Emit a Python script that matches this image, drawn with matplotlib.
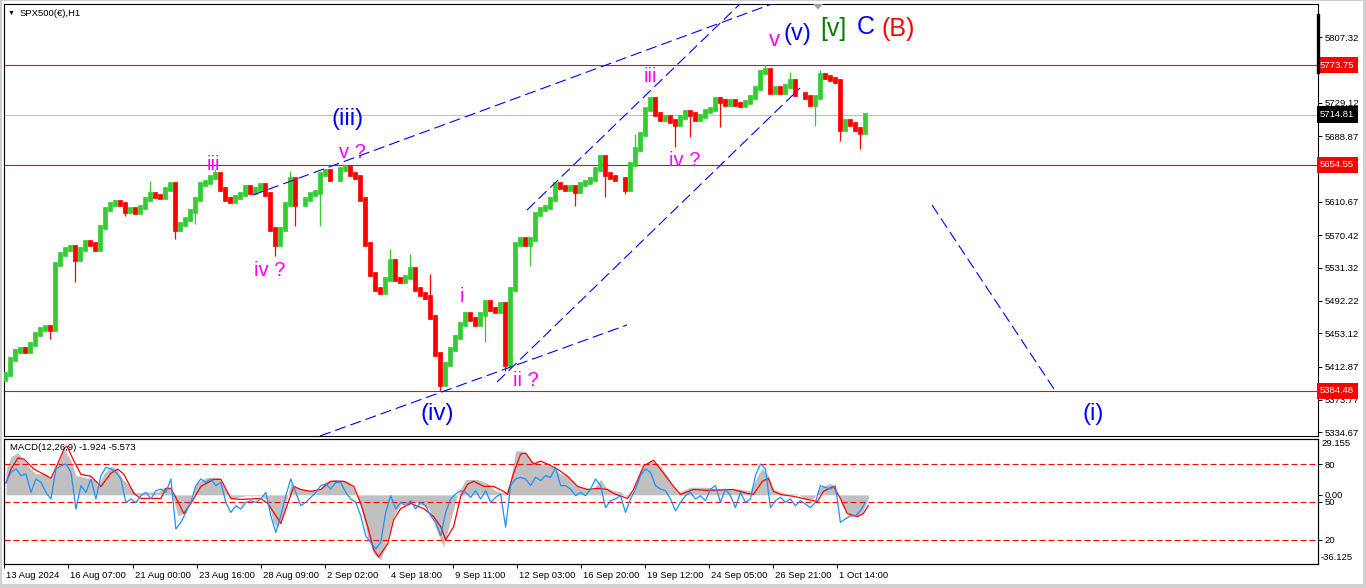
import matplotlib
matplotlib.use("Agg")
import matplotlib.pyplot as plt
import matplotlib.transforms as mtransforms
from matplotlib.lines import Line2D
from matplotlib.patches import Polygon, Rectangle

plt.rcParams['font.family'] = ['Liberation Sans', 'DejaVu Sans']

# ---------------- data ----------------
first_open = 5398.0
# closes every 5 hourly bars, starting at bar 2
closes = [
    5404.3, 5422.2, 5431.8, 5434.2, 5431.8, 5440.1, 5452.1, 5458.1, 5460.4, 5458.1,
    5535.7, 5547.7, 5553.7, 5556.0, 5541.7, 5553.7, 5562.0, 5559.6, 5553.7, 5580.0,
    5601.4, 5607.4, 5609.8, 5607.4, 5599.0, 5601.4, 5597.9, 5603.9, 5613.4, 5619.4,
    5617.0, 5615.8, 5625.3, 5631.3, 5577.6, 5583.5, 5589.5, 5599.0, 5613.4, 5631.3,
    5633.7, 5639.7, 5643.3, 5625.3, 5613.4, 5611.0, 5615.8, 5619.4, 5627.7, 5621.8,
    5625.3, 5630.1, 5619.4, 5577.6, 5559.6, 5577.6, 5607.4, 5637.3, 5607.4, 5607.4,
    5613.4, 5619.4, 5621.8, 5643.3, 5646.8, 5637.3, 5637.3, 5649.2, 5651.6, 5643.3,
    5639.7, 5613.4, 5559.6, 5523.8, 5505.9, 5502.3, 5517.8, 5539.3, 5517.8, 5515.4,
    5520.2, 5529.8, 5505.9, 5499.9, 5496.3, 5472.4, 5428.2, 5392.3, 5416.2, 5434.2,
    5448.5, 5464.0, 5476.0, 5470.0, 5464.0, 5476.0, 5490.3, 5482.0, 5479.5, 5487.9,
    5416.2, 5505.9, 5559.6, 5565.6, 5559.6, 5565.6, 5595.5, 5601.4, 5603.9, 5613.4,
    5631.3, 5627.7, 5625.3, 5627.7, 5622.9, 5631.3, 5633.7, 5637.3, 5649.2, 5663.6,
    5643.3, 5639.7, 5637.3, 5637.3, 5625.3, 5655.2, 5673.1, 5691.1, 5720.9, 5732.9,
    5715.0, 5709.0, 5711.4, 5706.6, 5703.0, 5711.4, 5717.4, 5715.0, 5709.0, 5712.6,
    5718.6, 5720.9, 5732.9, 5730.5, 5726.9, 5730.5, 5726.9, 5725.7, 5729.3, 5735.3,
    5747.2, 5766.3, 5768.7, 5742.4, 5747.2, 5742.4, 5749.6, 5754.4, 5738.9, 5738.9,
    5735.3, 5726.9, 5735.3, 5762.7, 5759.2, 5756.8, 5754.4, 5697.0, 5706.6, 5703.0,
    5697.0, 5693.5, 5714.8,
]
low_spike_idx = [9, 14, 24, 34, 38, 54, 58, 63, 87, 96, 100, 105, 114, 120, 124, 134, 137, 143, 162, 167, 171]
low_spike_val = [5446.1, 5514.2, 5593.1, 5565.6, 5583.5, 5545.3, 5581.2, 5581.2, 5384.5, 5442.5, 5407.9,
                 5533.3, 5605.0, 5615.8, 5619.4, 5675.5, 5687.5, 5699.4, 5700.6, 5682.7, 5673.1]
high_spike_idx = [29, 42, 57, 68, 77, 81, 85, 126, 129, 152, 157, 163]
high_spike_val = [5634.9, 5649.2, 5646.8, 5656.0, 5553.7, 5547.7, 5523.8, 5691.1, 5735.3, 5773.7, 5766.3, 5768.7]

level_red = [5773.75, 5654.55, 5384.48]
last_price = 5714.81
price_ticks = [5807.32, 5768.22, 5729.12, 5688.87, 5649.77, 5610.67, 5570.42,
               5531.32, 5492.22, 5453.12, 5412.87, 5373.77, 5334.67]

time_tick_bars = [0, 64, 129, 193, 257, 321, 385, 449, 513, 577, 641, 706, 770, 834]
time_tick_labels = ["13 Aug 2024", "16 Aug 07:00", "21 Aug 00:00", "23 Aug 16:00", "28 Aug 09:00",
                    "2 Sep 02:00", "4 Sep 18:00", "9 Sep 11:00", "12 Sep 03:00", "16 Sep 20:00",
                    "19 Sep 12:00", "24 Sep 05:00", "26 Sep 21:00", "1 Oct 14:00"]

hist_bars = [2, 7, 14, 24, 32, 42, 47, 54, 60, 67, 72, 82, 90, 94, 100, 107, 112, 119, 125, 132,
             142, 154, 160, 167, 174, 182, 187, 193, 202, 215, 220, 227, 242, 257, 264, 270, 274, 280, 287, 292,
             302, 315, 322, 332, 345, 350, 357, 364, 370, 377, 384, 390, 397, 412, 425, 434, 440, 447, 454, 462,
             474, 484, 492, 502, 507, 512, 519, 527, 537, 547, 557, 564, 570, 582, 590, 597, 604, 617, 624, 630,
             637, 647, 657, 667, 674, 687, 702, 717, 737, 747, 754, 759, 765, 770, 782, 794, 802, 810, 817, 827,
             833, 839, 847, 855, 859, 865]
hist_vals = [13, 20, 22, 15, 11, 11, 8, 16, 24, 18, 10, 9, 8, 4.5, 11, 15, 14, 8, 5, 1,
             1.5, 1.5, 4, 3, -11, -9, -2, 6, 9, 9, 4, -2, -0.5, -0.5, -3, -15, -17, -9, 6, 4,
             2.5, 2.5, 7, 8, 7, 3, -6, -22, -31, -34, -22, -11, -5, -4, -7, -20, -27, -13, 0, 8,
             8, 6, 2, 1, 8, 23, 23, 18, 16, 15, 11, 10, 6, 3, 3, 8, 3, 1.5, -1, 2,
             13, 18, 15, 7, 1, 4, 4, 3, 3, 2, 10, 14, 10, 3, 0.5, 0.5, -2, -2, 4, 6,
             3, -6, -11, -11, -9, -2]

signal_bars = [2, 7, 14, 20, 30, 40, 47, 54, 60, 63, 70, 77, 87, 97, 107, 114, 120, 130, 137, 157,
               162, 167, 174, 180, 187, 197, 210, 217, 227, 237, 257, 264, 274, 277, 284, 290, 297, 307, 317, 327,
               340, 350, 357, 364, 370, 375, 384, 390, 397, 407, 420, 430, 437, 442, 450, 457, 464, 470, 480, 490,
               500, 504, 509, 517, 522, 530, 537, 544, 554, 564, 574, 584, 594, 604, 610, 624, 630, 640, 650, 660,
               670, 677, 690, 704, 730, 744, 750, 759, 765, 770, 777, 790, 804, 814, 820, 830, 837, 844, 854, 860,
               865]
signal_vals = [6.2, 13.4, 19.3, 18.6, 13.4, 10.7, 8.6, 16.5, 23.9, 25.5, 17.6, 10.7, 9.7, 4.4, 11.3, 13.4, 10.7, 0.7, -1.9, -1.9,
               3.4, 3.4, -3.5, -9.8, -4.5, 4.4, 8.1, 8.1, -1.9, -2.4, -1.9, -4.5, -12.4, -15.0, -4.5, 4.4, 2.8, 1.8, 2.8, 7.1,
               7.1, 4.4, -4.5, -16.6, -28.7, -32.4, -25.6, -13.0, -7.2, -4.5, -7.2, -11.4, -16.6, -23.5, -16.6, -0.8, 5.5, 7.1, 4.4, 4.4,
               1.8, 0.2, 9.7, 21.3, 21.8, 16.0, 17.6, 16.0, 13.4, 9.7, 4.4, 2.8, 3.4, 2.8, 0.7, -1.9, 2.8, 15.0, 18.1, 11.3,
               4.4, 0.2, 2.8, 2.3, 2.8, 0.7, 0.2, 7.1, 8.6, 1.8, 0.2, -0.8, -2.4, -3.5, 1.8, 4.4, -1.9, -9.8, -11.4, -9.8,
               -5.6]

# blue oscillator, same bars as closes
fast_vals = [
    65.6, 73.6, 76.3, 71, 72.3, 57.6, 68.3, 65.6, 57.6, 52.4,
    76.3, 78.9, 80.2, 73.6, 44.4, 63, 57.6, 68.3, 52.4, 71,
    77.5, 76.3, 73.6, 68.3, 49.5, 52.4, 49.5, 55, 57.6, 52.4,
    59, 60.3, 57.6, 68.3, 28.5, 33.8, 41.7, 49.7, 63, 68.3,
    65.6, 68.3, 63, 65.6, 49.7, 41.7, 47, 44.4, 49.7, 51,
    49.7, 52.4, 57.6, 39, 25.8, 39, 55, 68.3, 57.6, 47,
    49.7, 53.7, 57.6, 63, 64.3, 60.3, 65.6, 65.6, 57.6, 52.4,
    49.7, 39, 23.2, 17.8, 12.6, 17.8, 41.7, 55, 44.4, 49.7,
    47, 51, 44.4, 49.7, 47, 39, 33.8, 23.2, 41.7, 52.4,
    56.4, 59, 57.6, 53.7, 59, 52.4, 59, 49.7, 53.7, 56.4,
    30, 63, 68.3, 69.6, 68.3, 63, 69.6, 67, 71, 69.6,
    77.5, 63, 63, 60.3, 55, 57.6, 55, 60.3, 68.3, 63,
    45.5, 51, 52.4, 55, 41.7, 52.4, 60.3, 71, 76.3, 73.6,
    63, 60.3, 59, 52.4, 43, 49.7, 55, 57.6, 52.4, 55,
    51, 60.3, 63, 49.7, 60.3, 55, 45.5, 57.6, 49.7, 52.4,
    71, 80.2, 76.3, 45.5, 51, 53.7, 49.7, 52.4, 47, 51,
    48.4, 45.5, 49.7, 63, 61.6, 60.3, 63, 33.8, 36.5, 39,
    39, 43, 49.7,
]
osc_levels = [80, 50, 20]
macd_label = "MACD(12,26,9) -1.924 -5.573"

trend_lines = [
    ((250, 5618.6), (777, 5850.7)),
    ((317, 5330.3), (624, 5463.1)),
    ((524, 5600.6), (739, 5849.5)),
    ((494, 5394.9), (797, 5746.6)),
    ((929, 5606.6), (1053, 5382.9)),
]

MAG, BLU, GRN, RED_T = '#ff00ff', '#0000ff', '#008000', '#ff0000'
wave_labels = [
    ("(iii)", 345, 5709.5, BLU, 17.5), ("v ?", 349, 5670.0, MAG, 14.5),
    ("iii", 210, 5654.5, MAG, 14.5), ("iv ?", 267, 5527.7, MAG, 14.5),
    ("i", 459, 5497.7, MAG, 14.5), ("ii ?", 523, 5396.1, MAG, 14.5),
    ("(iv)", 434, 5356.6, BLU, 17.5), ("iii", 647, 5759.8, MAG, 14.5),
    ("iv ?", 682, 5659.3, MAG, 14.5), ("v", 771, 5804.0, MAG, 16),
    ("(v)", 794, 5811.2, BLU, 17), ("[v]", 830, 5817.2, GRN, 18),
    ("C", 863, 5819.6, BLU, 18), ("(B)", 895, 5817.2, RED_T, 18),
    ("(i)", 1090, 5356.6, BLU, 17.5),
]

# ---------------- figure ----------------
W, H = 1366, 588
fig = plt.figure(figsize=(W / 100, H / 100), dpi=100)
fig.patch.set_facecolor('white')


def fx(px):
    return px / W


def fy(py):
    return 1 - py / H


ax = fig.add_axes([fx(4), fy(436), fx(1318) - fx(4), fy(4) - fy(436)])
mx = fig.add_axes([fx(4), fy(564), fx(1318) - fx(4), fy(439) - fy(564)])

FS = 6.8
GREEN = '#33cc33'
RED = '#ff0000'

# ---- price bars: thin wicks + bodies ----
bar_x = [2 + 5 * i for i in range(len(closes))]
opens = [first_open] + closes[:-1]
highs = [max(o, c) for o, c in zip(opens, closes)]
lows = [min(o, c) for o, c in zip(opens, closes)]
for i, v in zip(high_spike_idx, high_spike_val):
    highs[i] = max(highs[i], v)
for i, v in zip(low_spike_idx, low_spike_val):
    lows[i] = min(lows[i], v)
cols = [GREEN if c >= o else RED for o, c in zip(opens, closes)]
ax.vlines(bar_x, lows, highs, colors=cols, linewidth=0.9, zorder=3)
body_lo = [min(o, c) for o, c in zip(opens, closes)]
body_hi = [max(o, c) for o, c in zip(opens, closes)]
lc = ax.vlines(bar_x, body_lo, body_hi, colors=cols, linewidth=3.4, zorder=3)
lc.set_capstyle('projecting')

for v in level_red:
    ax.axhline(v, color=RED, lw=0.8, zorder=2)
ax.axhline(last_price, color='#c0c0c0', lw=0.8, zorder=2)

for (x0, y0), (x1, y1) in trend_lines:
    ax.plot([x0, x1], [y0, y1], color=BLU, lw=0.8, ls=(0, (10, 4.5)), zorder=4)

for txt, bx, by, c, s in wave_labels:
    ax.text(bx, by, txt, color=c, fontsize=s, ha='center', va='center', zorder=5, clip_on=False)

ax.set_xlim(1, 1315)
ax.set_ylim(5330.3, 5847.1)
ax.set_xticks([])
ax.yaxis.tick_right()
ax.set_yticks(price_ticks)
ax.set_yticklabels([f"{v:.2f}" for v in price_ticks])
ax.tick_params(axis='y', direction='out', length=3, width=0.7, pad=2, labelsize=FS, colors='black')
for sp in ax.spines.values():
    sp.set_linewidth(0.8)
    sp.set_color('black')

trans = mtransforms.blended_transform_factory(ax.transAxes, ax.transData)
for v, bg in [(level_red[0], RED), (last_price, 'black'), (level_red[1], RED), (level_red[2], RED)]:
    ax.text(1.0016, v, f"{v:.2f}", transform=trans, color='white', fontsize=FS, ha='left', va='center',
            bbox=dict(boxstyle='square,pad=0.38', fc=bg, ec='none'), clip_on=False, zorder=10)

# ---- MACD panel ----
mx.fill_between(hist_bars, 0, hist_vals, color='#c0c0c0', lw=0, zorder=1)
mx.plot(signal_bars, signal_vals, color=RED, lw=0.9, zorder=3)
mx.set_xlim(1, 1315)
mx.set_ylim(-36.125, 29.155)
tw = mx.twinx()
tw.set_ylim(0.66, 100.1)
for lv in osc_levels:
    tw.axhline(lv, color=RED, lw=0.8, ls=(0, (5.4, 2.7)), zorder=2)
tw.plot(bar_x, fast_vals, color='#1e90ff', lw=0.9, zorder=3)

mx.set_yticks([0])
mx.set_yticklabels(['0.00'])
mx.yaxis.tick_right()
mx.tick_params(axis='y', direction='out', length=3, width=0.7, pad=2, labelsize=FS)
tw.set_yticks(osc_levels)
tw.set_yticklabels([str(v) for v in osc_levels])
tw.tick_params(axis='y', direction='out', length=3, width=0.7, pad=2, labelsize=FS)
for a in (mx, tw):
    for sp in a.spines.values():
        sp.set_linewidth(0.8)
        sp.set_color('black')

mx.set_xticks(time_tick_bars)
mx.set_xticklabels([])
mx.tick_params(axis='x', direction='out', length=3, width=0.7)
xtr = mtransforms.blended_transform_factory(mx.transData, fig.transFigure)
for b, lab in zip(time_tick_bars, time_tick_labels):
    mx.text(b + 2, fy(575), lab, transform=xtr, fontsize=FS, ha='left', va='center', clip_on=False)

fig.text(fx(1321), fy(444), "29.155", fontsize=FS, ha='left', va='center')
fig.text(fx(1321), fy(558), "-36.125", fontsize=FS, ha='left', va='center')
fig.text(fx(10), fy(448), macd_label, fontsize=FS, ha='left', va='center')

# ---- header & decorations ----
fig.text(fx(8), fy(13), "\u25bc", fontsize=5, ha='left', va='center')
fig.text(fx(20), fy(13), "SPX500(\u20ac),H1", fontsize=FS, ha='left', va='center')
fig.add_artist(Line2D([fx(1318), fx(1318)], [fy(15), fy(72)], color='black', lw=2.4, transform=fig.transFigure))
fig.add_artist(Polygon([[fx(813), fy(4)], [fx(823), fy(4)], [fx(818), fy(9.5)]], closed=True,
                       fc='#a0a0a0', ec='none', transform=fig.transFigure))
for (x0, y0, x1, y1) in [(0, 0, 2, 588), (0, 0, 1366, 1), (1363, 0, 1366, 588), (0, 584, 1366, 588)]:
    fig.add_artist(Rectangle((fx(x0), fy(y1)), fx(x1) - fx(x0), fy(y0) - fy(y1),
                             fc='#d0d0d0', ec='none', transform=fig.transFigure))

fig.savefig("out.png", dpi=100)
